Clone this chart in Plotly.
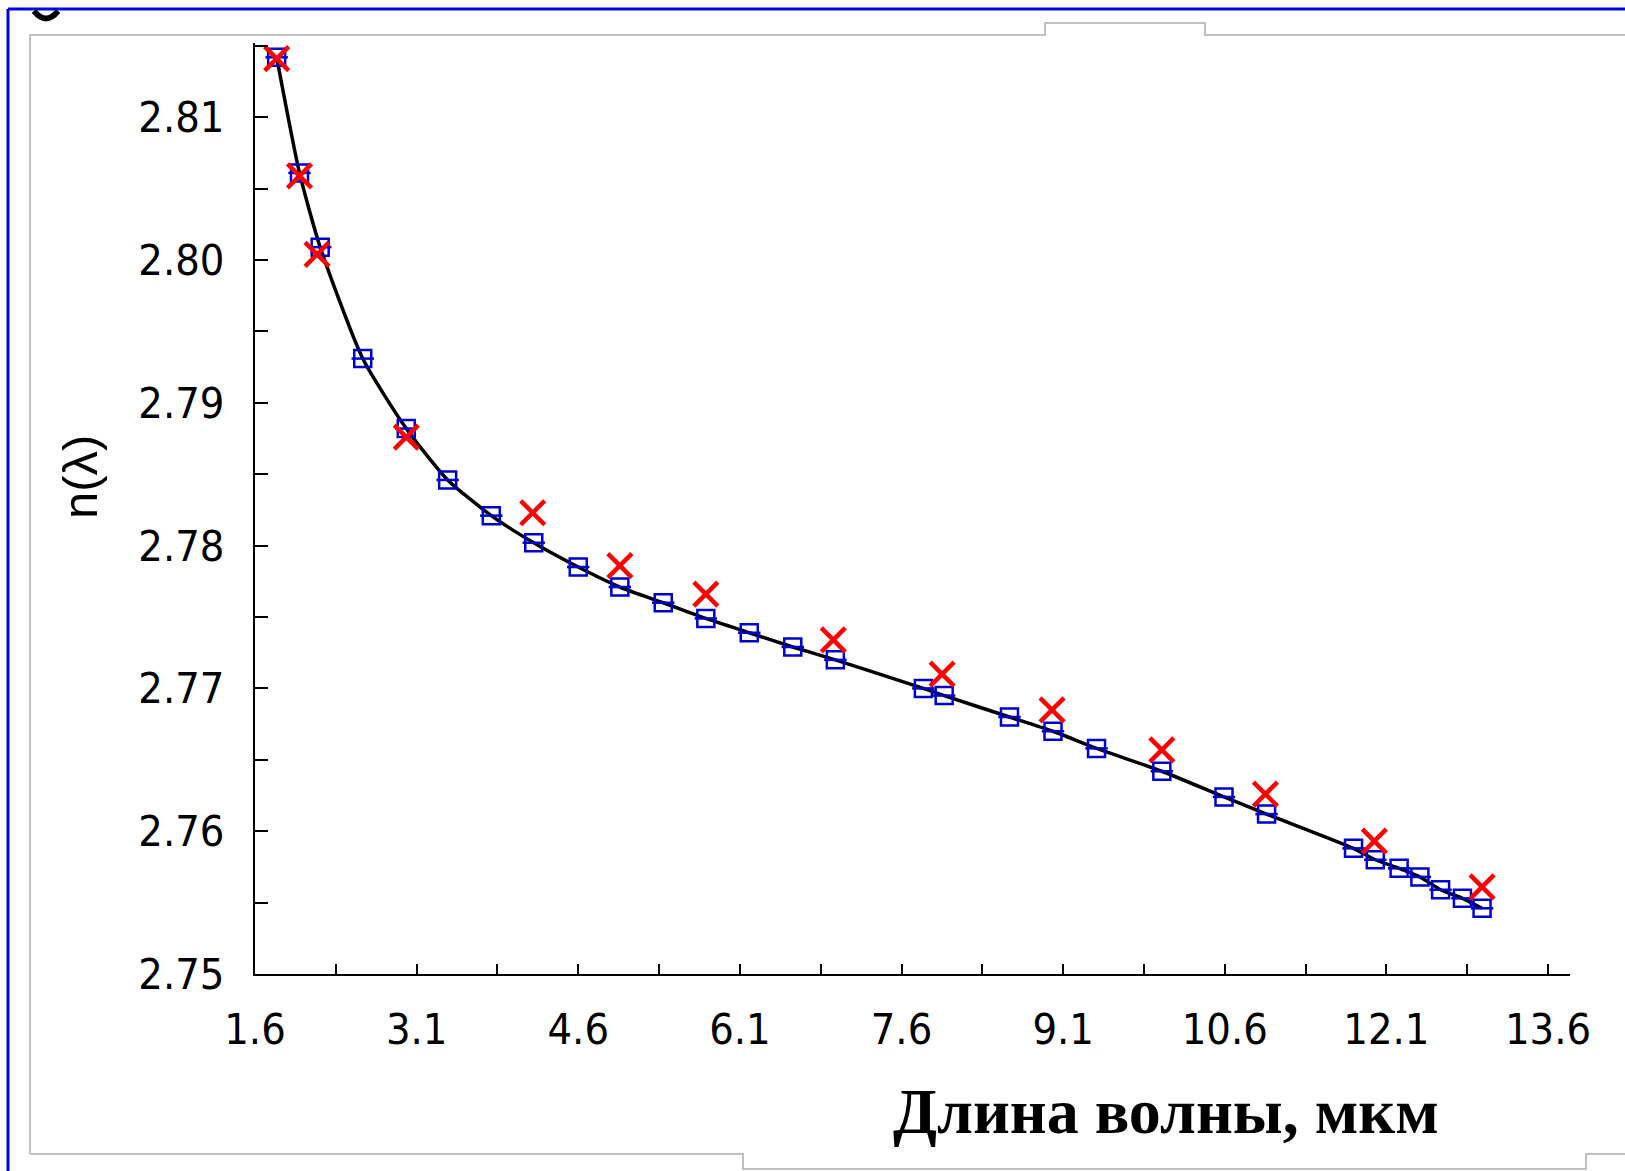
import plotly.graph_objects as go

# ---- data ----
blue_x = [1.801, 2.013, 2.205, 2.600, 3.004, 3.388, 3.793, 4.187, 4.600, 4.986,
          5.389, 5.784, 6.187, 6.591, 6.986, 7.803, 7.996, 8.602, 9.006, 9.410,
          10.016, 10.593, 10.988, 11.795, 11.997, 12.218, 12.411, 12.603, 12.806, 12.988]
blue_y = [2.8142, 2.8061, 2.8009, 2.7931, 2.7882, 2.7846, 2.7821, 2.7802, 2.7785, 2.7771,
          2.7760, 2.7749, 2.7739, 2.7729, 2.7720, 2.7700, 2.7695, 2.7680, 2.7670, 2.7658,
          2.7642, 2.7624, 2.7612, 2.7588, 2.7580, 2.7574, 2.7568, 2.7559, 2.7553, 2.7546]
red_x = [1.801, 2.013, 2.176, 3.004, 4.177, 4.986, 5.784, 6.967, 7.977, 8.997,
         10.016, 10.977, 11.988, 12.988]
red_y = [2.8141, 2.8059, 2.8004, 2.7876, 2.7823, 2.7786, 2.7766, 2.7734, 2.7710, 2.7685,
         2.7657, 2.7626, 2.7593, 2.7561]
x_title = "Длина волны, мкм"
y_title = "n(λ)"

# ---- layout geometry (pixels) ----
W, H = 1625, 1171
L, R, T, B = 255, 1570, 43, 974


def px(xp):
    return (xp - L) / (R - L)


def py(yp):
    return (B - yp) / (B - T)


fig = go.Figure()

fig.add_trace(go.Scatter(x=blue_x, y=blue_y, mode="lines",
                         line=dict(color="black", width=3.5, shape="spline", smoothing=0.6),
                         hoverinfo="skip", showlegend=False))
fig.add_trace(go.Scatter(x=blue_x, y=blue_y, mode="markers",
                         marker=dict(symbol="square-open", size=17, color="#0000CC",
                                     line=dict(width=2.5, color="#0000CC")),
                         showlegend=False))
fig.add_trace(go.Scatter(x=blue_x, y=blue_y, mode="markers",
                         marker=dict(symbol="line-ew", size=16, color="#0000CC",
                                     line=dict(width=2.5, color="#0000CC")),
                         showlegend=False))
fig.add_trace(go.Scatter(x=red_x, y=red_y, mode="markers",
                         marker=dict(symbol="x-thin-open", size=24, color="#FF0000",
                                     line=dict(width=4.5, color="#FF0000")),
                         showlegend=False))

tickfont = dict(family="Liberation Sans Narrow, Arial Narrow, DejaVu Sans Condensed, sans-serif",
                size=43, color="black")

fig.update_layout(
    width=W, height=H,
    margin=dict(l=L, r=W - R, t=T, b=H - B, pad=0),
    paper_bgcolor="white", plot_bgcolor="white",
    xaxis=dict(range=[1.6, 13.804], showgrid=False, zeroline=False,
               showline=True, linecolor="black", linewidth=2,
               ticks="inside", ticklen=10, tickwidth=2, tickcolor="black",
               tick0=1.6, dtick=1.5, tickformat=".1f",
               minor=dict(ticks="inside", ticklen=10, tickwidth=2, tickcolor="black",
                          tick0=1.6, dtick=0.75, showgrid=False),
               tickfont=tickfont, ticklabelstandoff=16),
    yaxis=dict(range=[2.75, 2.8152], showgrid=False, zeroline=False,
               showline=True, linecolor="black", linewidth=2,
               ticks="inside", ticklen=13, tickwidth=2, tickcolor="black",
               tick0=2.75, dtick=0.01, tickformat=".2f",
               minor=dict(ticks="inside", ticklen=13, tickwidth=2, tickcolor="black",
                          tick0=2.75, dtick=0.005, showgrid=False),
               tickfont=tickfont, ticklabelstandoff=20),
)

# axis titles
fig.add_annotation(xref="paper", yref="paper", x=px(1166), y=py(1111),
                   text="<b>" + x_title + "</b>", showarrow=False,
                   xanchor="center", yanchor="middle",
                   font=dict(family="Liberation Serif, Times New Roman, serif", size=64, color="black"))
fig.add_annotation(xref="paper", yref="paper", x=px(80), y=py(477),
                   text=y_title, showarrow=False, textangle=-90,
                   xanchor="center", yanchor="middle",
                   font=dict(family="Liberation Sans, Arial, sans-serif", size=49, color="black"))

# decorative frames
grey = "#C0C0C0"
top_path = (f"M {px(30)},{py(1154)} L {px(30)},{py(35)} L {px(1045)},{py(35)} "
            f"L {px(1045)},{py(23)} L {px(1205)},{py(23)} L {px(1205)},{py(35)} L {px(1625)},{py(35)}")
bot_path = (f"M {px(30)},{py(1154)} L {px(743)},{py(1154)} L {px(743)},{py(1169)} "
            f"L {px(1586)},{py(1169)} L {px(1586)},{py(1154)} L {px(1625)},{py(1154)}")
fig.add_shape(type="path", xref="paper", yref="paper", path=top_path,
              line=dict(color=grey, width=2), layer="below")
fig.add_shape(type="path", xref="paper", yref="paper", path=bot_path,
              line=dict(color=grey, width=2), layer="below")
# blue frame
fig.add_shape(type="line", xref="paper", yref="paper", x0=px(8), x1=px(1625), y0=py(9), y1=py(9),
              line=dict(color="#0000E6", width=3))
fig.add_shape(type="line", xref="paper", yref="paper", x0=px(8), x1=px(8), y0=py(9), y1=py(1171),
              line=dict(color="#0000E6", width=3))
# clipped glyph at top-left corner
fig.add_shape(type="path", xref="paper", yref="paper",
              path=f"M {px(34)},{py(11)} Q {px(46)},{py(26)} {px(58)},{py(11)}",
              line=dict(color="black", width=6))

fig.write_html("out.html")
